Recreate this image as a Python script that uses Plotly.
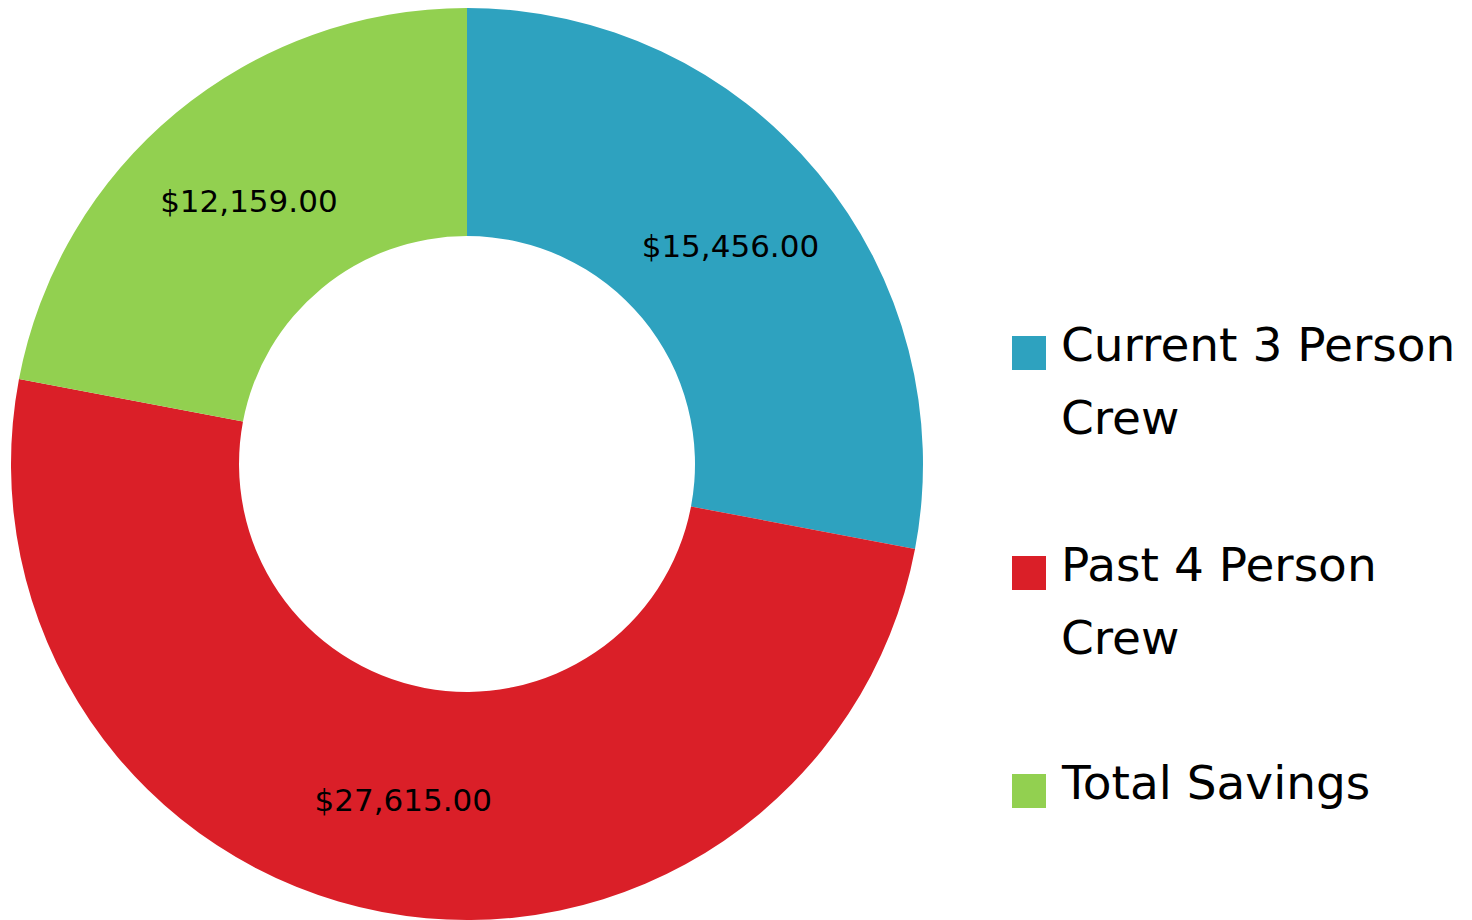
import plotly.graph_objects as go

categories = ["Current 3 Person Crew", "Past 4 Person Crew", "Total Savings"]
legend_lines = [["Current 3 Person", "Crew"], ["Past 4 Person", "Crew"], ["Total Savings"]]
values = [15456, 27615, 12159]
labels_text = ["$15,456.00", "$27,615.00", "$12,159.00"]
colors = ["#2EA2BF", "#DA1F28", "#92D050"]

W, H = 1472, 920

fig = go.Figure(go.Pie(
    labels=categories,
    values=values,
    text=labels_text,
    textinfo="text",
    textposition="inside",
    insidetextorientation="horizontal",
    hole=0.5,
    sort=False,
    direction="clockwise",
    rotation=0,
    marker=dict(colors=colors, line=dict(width=0)),
    textfont=dict(family="DejaVu Sans", size=31, color="black"),
    domain=dict(x=[3 / W, 915 / W], y=[1 - 912 / H, 1]),
    showlegend=False,
))

# manual legend
sq_tops = [328, 548, 766]
line_gap = 73
shapes = []
annotations = []
for i, (lines, col) in enumerate(zip(legend_lines, colors)):
    top = sq_tops[i]
    shapes.append(dict(type="rect", xref="paper", yref="paper",
                       x0=1004 / W, x1=1038 / W,
                       y0=1 - (top + 34) / H, y1=1 - top / H,
                       fillcolor=col, line=dict(width=0)))
    for j, ln in enumerate(lines):
        cy = top + 8 + j * line_gap
        annotations.append(dict(text=ln, xref="paper", yref="paper",
                                x=1051 / W, y=1 - cy / H, xanchor="left", yanchor="middle",
                                showarrow=False,
                                font=dict(family="DejaVu Sans", size=47, color="black")))

fig.update_layout(
    width=W, height=H,
    margin=dict(l=0, r=0, t=0, b=0),
    paper_bgcolor="white",
    plot_bgcolor="white",
    shapes=shapes,
    annotations=annotations,
)

fig.write_html("out.html")
